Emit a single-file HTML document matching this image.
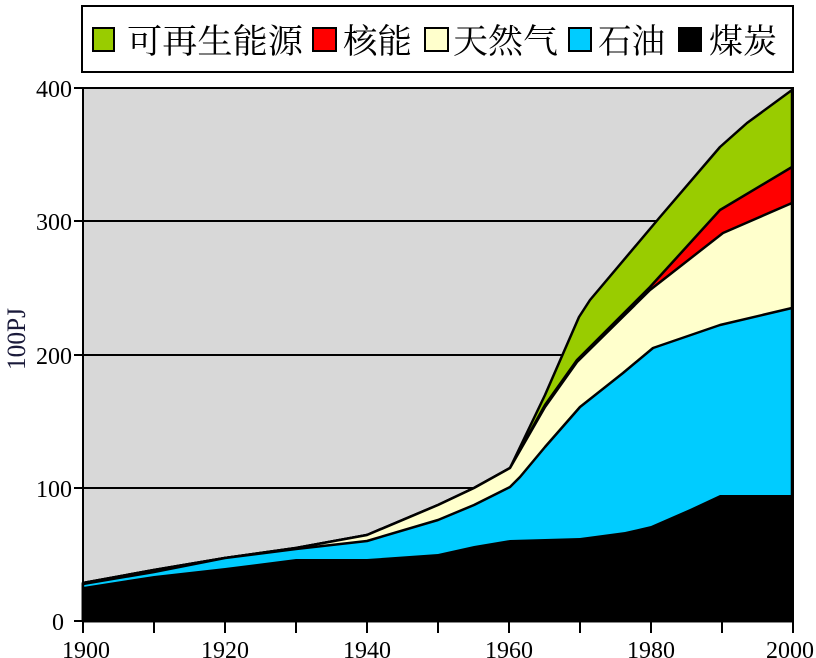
<!DOCTYPE html>
<html><head><meta charset="utf-8"><style>
html,body{margin:0;padding:0;background:#fff;}
svg{display:block;}
</style></head><body>
<svg width="816" height="658" viewBox="0 0 816 658" font-family="'Liberation Serif','Noto Serif CJK SC',serif">
<rect x="82" y="6" width="711" height="66" fill="#fff" stroke="#000" stroke-width="2"/>
<g font-family="'Liberation Serif','Noto Serif CJK SC',serif" font-size="34" fill="#000">
<rect x="93" y="28" width="21" height="23" fill="#99cc00" stroke="#000" stroke-width="2"/>
<text x="127" y="53" textLength="176" lengthAdjust="spacingAndGlyphs">可再生能源</text>
<rect x="313" y="28" width="23" height="23" fill="#ff0000" stroke="#000" stroke-width="2"/>
<text x="343" y="53" textLength="69" lengthAdjust="spacingAndGlyphs">核能</text>
<rect x="425" y="28" width="23" height="23" fill="#ffffcc" stroke="#000" stroke-width="2"/>
<text x="453" y="53" textLength="105" lengthAdjust="spacingAndGlyphs">天然气</text>
<rect x="569" y="28" width="22" height="23" fill="#00ccff" stroke="#000" stroke-width="2"/>
<text x="598" y="53" textLength="67" lengthAdjust="spacingAndGlyphs">石油</text>
<rect x="679" y="28" width="22" height="23" fill="#000" stroke="#000" stroke-width="2"/>
<text x="709" y="53" textLength="68" lengthAdjust="spacingAndGlyphs">煤炭</text>
</g>
<rect x="83" y="88" width="710" height="533" fill="#d8d8d8"/>
<g stroke="#000" stroke-width="2">
<line x1="83" y1="221" x2="793" y2="221"/>
<line x1="83" y1="355" x2="793" y2="355"/>
<line x1="83" y1="488" x2="793" y2="488"/>
</g>
<g stroke="#000" stroke-width="2.5" stroke-linejoin="round">
<polygon fill="#99cc00" points="83,583 154,570 225,558 296,548 367,535 438,505 474,488 510,468 545,395 579,317 590,300 660,217 720,147 747,123 792,90 792,621 83,621"/>
<polygon fill="#ff0000" points="83,583 154,570 225,558 296,548 367,535 438,505 474,488 510,468 545,405 577,360 650,287 720,210 792,167 792,621 83,621"/>
<polygon fill="#ffffcc" points="83,583 154,570 225,558 296,548 367,535 438,505 474,488 510,468 545,407 577,362 650,290 723,233 792,203 792,621 83,621"/>
<polygon fill="#00ccff" points="83,584 154,572 225,558 296,549 367,541 438,520 474,505 500,492 510,487 520,477 545,447 580,407 623,373 653,348 720,325 792,308 792,621 83,621"/>
</g>
<polygon fill="#000" points="83,587 154,576 225,568 296,559 367,559 438,554 474,546 510,540 580,538 625,532 651,526 690,509 720,495 792,495 792,621 83,621"/>
<rect x="83" y="88" width="710" height="533" fill="none" stroke="#000" stroke-width="2"/>
<g stroke="#000" stroke-width="2">
<line x1="74" y1="88" x2="83" y2="88"/><line x1="74" y1="221" x2="83" y2="221"/>
<line x1="74" y1="355" x2="83" y2="355"/><line x1="74" y1="488" x2="83" y2="488"/>
<line x1="74" y1="621" x2="83" y2="621"/>
<line x1="83" y1="621" x2="83" y2="633"/><line x1="154" y1="621" x2="154" y2="633"/>
<line x1="225" y1="621" x2="225" y2="633"/><line x1="296" y1="621" x2="296" y2="633"/>
<line x1="367" y1="621" x2="367" y2="633"/><line x1="438" y1="621" x2="438" y2="633"/>
<line x1="509" y1="621" x2="509" y2="633"/><line x1="580" y1="621" x2="580" y2="633"/>
<line x1="651" y1="621" x2="651" y2="633"/><line x1="722" y1="621" x2="722" y2="633"/>
<line x1="793" y1="621" x2="793" y2="633"/>
</g>
<g font-size="24" fill="#000" text-anchor="end">
<text x="72" y="97">400</text>
<text x="72" y="230">300</text>
<text x="72" y="364">200</text>
<text x="72" y="497">100</text>
<text x="64" y="630">0</text>
</g>
<g font-size="24" fill="#000" text-anchor="middle">
<text x="86" y="658">1900</text>
<text x="225" y="658">1920</text>
<text x="367" y="658">1940</text>
<text x="509" y="658">1960</text>
<text x="651" y="658">1980</text>
<text x="790" y="658">2000</text>
</g>
<text transform="translate(25,370) rotate(-90)" font-size="26" fill="#1a1a3a" textLength="62" lengthAdjust="spacingAndGlyphs">100PJ</text>
</svg>
</body></html>
